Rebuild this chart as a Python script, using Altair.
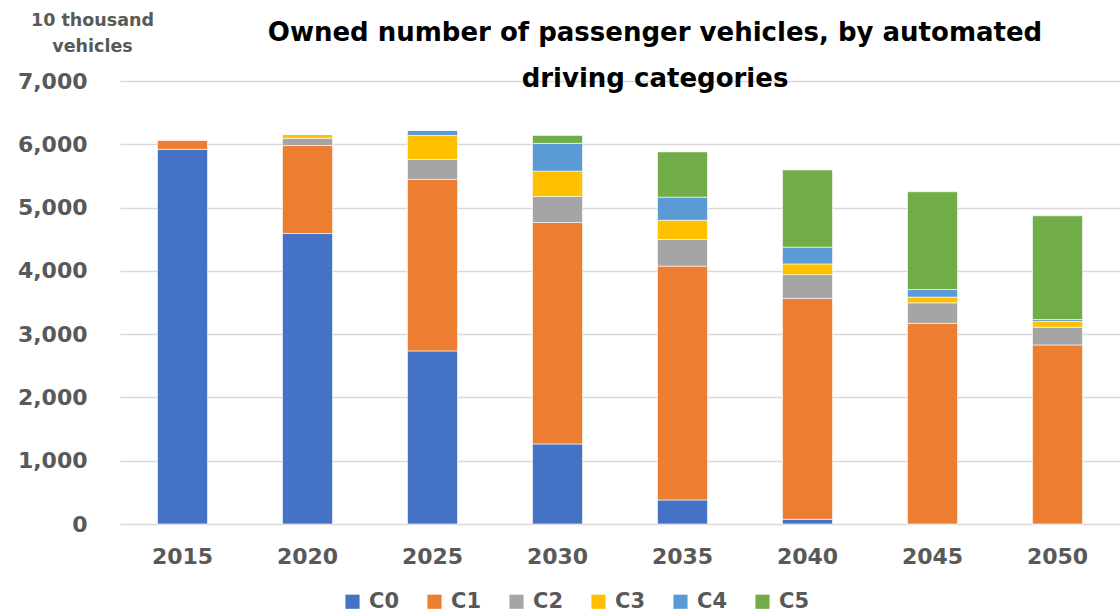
import altair as alt
import pandas as pd

years = ["2015", "2020", "2025", "2030", "2035", "2040", "2045", "2050"]
categories = ["C0", "C1", "C2", "C3", "C4", "C5"]
colors = ["#4472C4", "#ED7D31", "#A5A5A5", "#FFC000", "#5B9BD5", "#70AD47"]

c0 = [5920, 4590, 2735, 1265, 380, 75, 0, 0]
c1 = [150, 1390, 2710, 3500, 3695, 3490, 3170, 2830]
c2 = [0, 115, 315, 410, 420, 375, 325, 280]
c3 = [0, 60, 380, 400, 305, 170, 90, 90]
c4 = [0, 0, 80, 440, 365, 265, 120, 30]
c5 = [0, 0, 0, 125, 715, 1220, 1545, 1640]

series = [c0, c1, c2, c3, c4, c5]
rows = []
for ci, (cat, vals) in enumerate(zip(categories, series)):
    for y, v in zip(years, vals):
        rows.append({"year": y, "cat": cat, "idx": ci, "value": v})
df = pd.DataFrame(rows)

font = "DejaVu Sans"
grey = "#595959"

chart = alt.Chart(df).mark_bar(stroke="white", strokeWidth=0.6).encode(
    x=alt.X("year:N", sort=years, title=None,
            scale=alt.Scale(paddingInner=0.6, paddingOuter=0.3),
            axis=alt.Axis(labelAngle=0, labelFont=font, labelFontSize=22,
                          labelFontWeight="bold", labelColor=grey, labelPadding=22,
                          domain=False, ticks=False, grid=False)),
    y=alt.Y("value:Q", stack="zero", title=["10 thousand", "vehicles"],
            scale=alt.Scale(domain=[0, 7000], nice=False),
            axis=alt.Axis(values=list(range(0, 7001, 1000)), format=",.0f",
                          labelFont=font, labelFontSize=22, labelFontWeight="bold",
                          labelColor=grey, labelPadding=33, domain=False, ticks=False,
                          gridColor="#D9D9D9", gridWidth=1.5,
                          titleAngle=0, titleX=-28, titleY=-61, titleAlign="center",
                          titleBaseline="middle", titleFont=font, titleFontSize=17.5,
                          titleFontWeight="bold", titleColor=grey, titleLineHeight=26)),
    color=alt.Color("cat:N", scale=alt.Scale(domain=categories, range=colors),
                    legend=alt.Legend(title=None, orient="none", direction="horizontal",
                                      legendX=222, legendY=510, columns=6,
                                      symbolType="square", symbolSize=200,
                                      symbolStrokeWidth=0,
                                      labelFont=font, labelFontSize=21,
                                      labelFontWeight="bold", labelColor=grey,
                                      columnPadding=24, labelOffset=6)),
    order=alt.Order("idx:Q", sort="ascending"),
).properties(
    width=1000,
    height=443,
    padding={"left": 120, "top": 81, "right": 0, "bottom": 89},
    autosize=alt.AutoSizeParams(type="none"),
    title=alt.TitleParams(
        text=["Owned number of passenger vehicles, by automated", "driving categories"],
        font=font, fontSize=26, fontWeight="bold", color="black",
        anchor="middle", dx=35, dy=69, offset=-12, lineHeight=46,
    ),
).configure_view(stroke=None)

chart.save("out.html", embed_options={"renderer": "svg", "actions": False})
